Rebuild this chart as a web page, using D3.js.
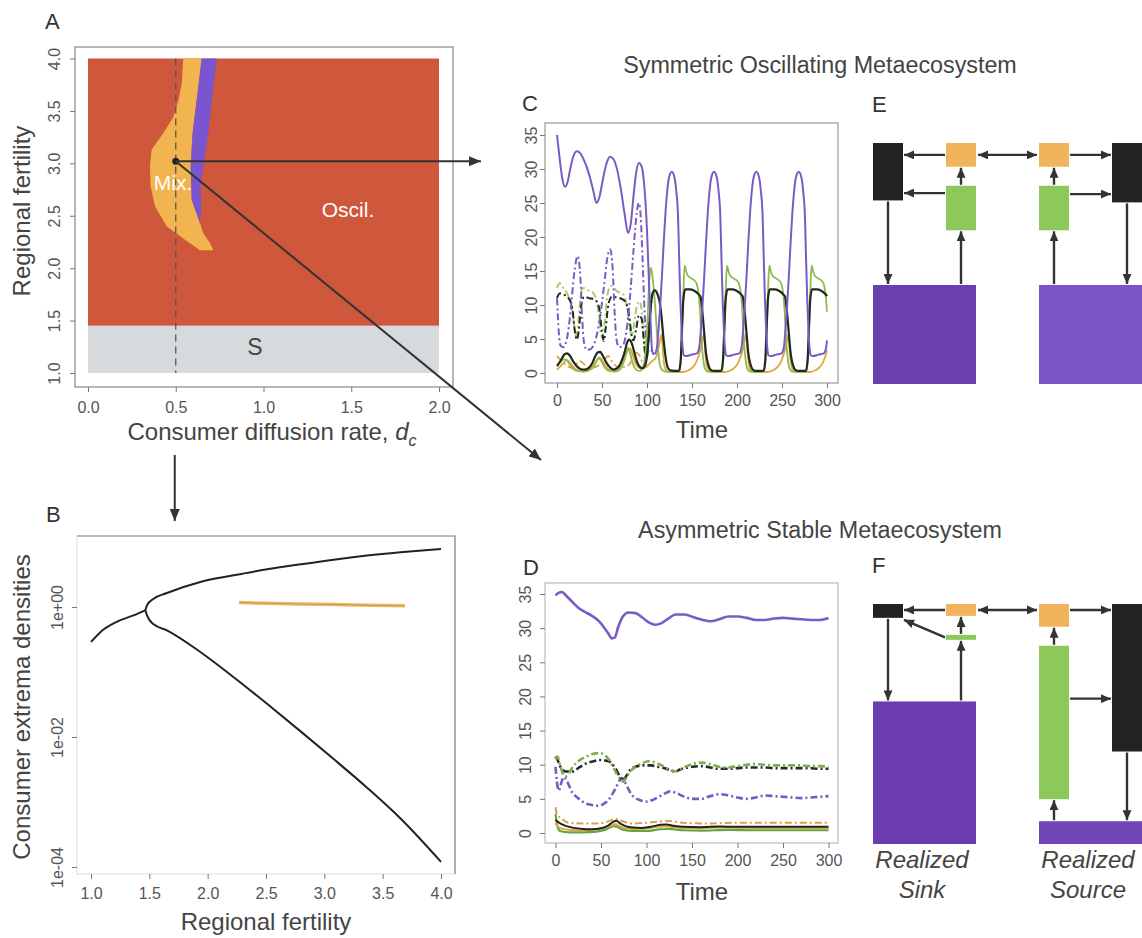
<!DOCTYPE html>
<html>
<head>
<meta charset="utf-8">
<script src="https://cdn.jsdelivr.net/npm/d3@7"></script>
<style>
  body { margin: 0; background: #fff; }
  text { font-family: 'Liberation Sans', Arial, sans-serif; }
</style>
</head>
<body>
<div id="fig"></div>
<script>
// ---------- data: panel A (regime map) ----------
const diffTicks = [0, 0.5, 1, 1.5, 2];
const fertTicksA = [1, 1.5, 2, 2.5, 3, 3.5, 4];
const stableLimit = 1.45;            // below: stable (S), above: oscillating
const mixRegion = [
  [0.543, 4.0], [0.534, 3.76], [0.515, 3.60], [0.486, 3.44], [0.429, 3.29], [0.363, 3.13],
  [0.353, 2.97], [0.357, 2.78], [0.382, 2.59], [0.448, 2.40], [0.553, 2.27], [0.638, 2.17],
  [0.714, 2.17], [0.695, 2.24], [0.657, 2.33], [0.638, 2.43], [0.619, 2.52], [0.591, 2.65],
  [0.585, 2.97], [0.596, 3.29], [0.619, 3.60], [0.648, 4.0]
];
const purpleRegion = [
  [0.648, 4.0], [0.619, 3.60], [0.596, 3.29], [0.585, 2.97], [0.591, 2.65], [0.619, 2.52],
  [0.638, 2.43], [0.645, 2.55], [0.642, 2.78], [0.657, 2.97], [0.686, 3.29], [0.705, 3.60], [0.733, 4.0]
];
const chosenPoint = [0.5, 3.02];

// ---------- data: panel B (bifurcation) ----------
const fertTicksB = [1, 1.5, 2, 2.5, 3, 3.5, 4];
const densTicksB = [1, 1e-2, 1e-4];
const densLabelsB = ["1e+00", "1e-02", "1e-04"];
const bifStableFert = [1.0, 1.08, 1.22, 1.37, 1.466];
const bifStable = [0.29, 0.41, 0.59, 0.75, 0.89];
const bifBranchFert = [1.466, 1.48, 1.537, 1.651, 1.937, 2.223, 2.509, 2.794, 3.08, 3.366, 3.651, 4.0];
const bifMax = [0.89, 1.06, 1.34, 1.64, 2.43, 3.07, 3.80, 4.53, 5.35, 6.17, 6.93, 7.80];
const bifMin = [0.89, 0.745, 0.541, 0.438, 0.203, 0.0832, 0.0324, 0.0123, 0.00457, 0.00166, 0.000562, 0.00012];
const mixFert = [2.27, 2.5, 2.8, 3.1, 3.4, 3.69];
const mixDens = [1.17, 1.14, 1.11, 1.09, 1.06, 1.04];

// ---------- data: panels C, D (time series, [time, density]) ----------
const timeTicks = [0, 50, 100, 150, 200, 250, 300];
const densTicks = [0, 5, 10, 15, 20, 25, 30, 35];

const cPurple1 = [[0,35],[3,31.5],[6,28.5],[9,27.4],[12,28.2],[15,30.2],[18,31.8],[22,32.6],[26,32.3],[30,31.3],[35,29.5],[40,27],[44,25],[47,25.8],[51,28.5],[55,30.8],[59,31.8],[63,31.4],[67,29.8],[71,27],[75,23.5],[79,20.6],[82,22],[85,26],[88,29.5],[91,30.9],[94,30.4],[97,27.5],[100,21],[102,14],[104,7.5],[105.5,3.5],[107,2.8],[109,2.9],
  [110.5,3.4],[111.5,4.2],[112.5,5.8],[114.5,9.5],[116.5,14],[118.5,19],[120.5,23.5],[122.5,26.8],[124.5,28.8],[127.5,29.6],[130.5,28.8],[132.5,26.8],[134.5,23],[135.5,18],[137,11],[138.5,6],[140,3.2],[141,2.6],[143.5,2.5],[149.5,2.7],[155.5,2.9],
  [157.5,3.4],[158.5,4.2],[159.5,5.8],[161.5,9.5],[163.5,14],[165.5,19],[167.5,23.5],[169.5,26.8],[171.5,28.8],[174.5,29.6],[177.5,28.8],[179.5,26.8],[181.5,23],[182.5,18],[184,11],[185.5,6],[187,3.2],[188,2.6],[190.5,2.5],[196.5,2.7],[202.5,2.9],
  [204.5,3.4],[205.5,4.2],[206.5,5.8],[208.5,9.5],[210.5,14],[212.5,19],[214.5,23.5],[216.5,26.8],[218.5,28.8],[221.5,29.6],[224.5,28.8],[226.5,26.8],[228.5,23],[229.5,18],[231,11],[232.5,6],[234,3.2],[235,2.6],[237.5,2.5],[243.5,2.7],[249.5,2.9],
  [251.5,3.4],[252.5,4.2],[253.5,5.8],[255.5,9.5],[257.5,14],[259.5,19],[261.5,23.5],[263.5,26.8],[265.5,28.8],[268.5,29.6],[271.5,28.8],[273.5,26.8],[275.5,23],[276.5,18],[278,11],[279.5,6],[281,3.2],[282,2.6],[284.5,2.5],[290.5,2.7],[296.5,2.9],[298.5,3.4],[299.5,4.2],[300,4.8]];
const cGreen1 = [[0,1.2],[3,1.5],[7,2.0],[10,2.0],[13,1.5],[17,0.7],[22,0.3],[30,0.2],[36,0.4],[41,1.0],[44,1.8],[46,2.2],[49,1.8],[53,0.8],[58,0.3],[65,0.2],[70,0.5],[74,1.5],[77,3],[79,3.7],[81,3],[84,1.5],[88,0.5],[92,0.3],[96,1],[99,4],[101,9],[102.5,13.5],[104,15.5],[105.5,14.8],[107,13],[109,10],[111,6],[113,2.5],[115,0.9],[118,0.3],[124,0.15],
  [136.5,0.3],[138.5,4],[140,10],[141,14],[142,15.8],[143.5,15],[145.5,14.3],[149.5,13.9],[153.5,13.5],[155.5,13],[157.5,11.5],[159,9],[160.5,5],[162.5,2],[164.5,0.6],[167.5,0.2],[174.5,0.15],
  [183.5,0.3],[185.5,4],[187,10],[188,14],[189,15.8],[190.5,15],[192.5,14.3],[196.5,13.9],[200.5,13.5],[202.5,13],[204.5,11.5],[206,9],[207.5,5],[209.5,2],[211.5,0.6],[214.5,0.2],[221.5,0.15],
  [230.5,0.3],[232.5,4],[234,10],[235,14],[236,15.8],[237.5,15],[239.5,14.3],[243.5,13.9],[247.5,13.5],[249.5,13],[251.5,11.5],[253,9],[254.5,5],[256.5,2],[258.5,0.6],[261.5,0.2],[268.5,0.15],
  [277.5,0.3],[279.5,4],[281,10],[282,14],[283,15.8],[284.5,15],[286.5,14.3],[290.5,13.9],[294.5,13.5],[296.5,13],[298.5,11.5],[300,9]];
const cBlack1 = [[0,1.0],[4,1.8],[8,2.7],[11,2.9],[14,2.6],[18,1.7],[22,1.0],[26,0.6],[30,0.5],[35,0.7],[39,1.4],[42,2.3],[45,3.0],[48,3.1],[51,2.5],[55,1.5],[59,0.8],[63,0.5],[67,0.7],[71,1.5],[75,3],[78,4.5],[80,4.9],[83,4.4],[86,3],[89,1.6],[92,0.9],[95,0.7],[98,1.2],[100,2.5],[102,5.5],[104,9.5],[106,11.6],[108.5,12.2],[111,11.8],[114,10.5],[116,8.5],[118,5.5],[120,3],[122,1.3],[124,0.6],[127,0.35],
  [135.5,0.3],[137.5,2],[139,7],[140.5,11],[142.5,12.3],[147.5,12.3],[152.5,12.1],[156.5,11.7],[158.5,11.4],[159.5,11.2],[161.5,9],[163.5,6],[165.5,3],[167.5,1.5],[169.5,0.7],[171.5,0.4],[174.5,0.3],
  [182.5,0.3],[184.5,2],[186,7],[187.5,11],[189.5,12.3],[194.5,12.3],[199.5,12.1],[203.5,11.7],[205.5,11.4],[206.5,11.2],[208.5,9],[210.5,6],[212.5,3],[214.5,1.5],[216.5,0.7],[218.5,0.4],[221.5,0.3],
  [229.5,0.3],[231.5,2],[233,7],[234.5,11],[236.5,12.3],[241.5,12.3],[246.5,12.1],[250.5,11.7],[252.5,11.4],[253.5,11.2],[255.5,9],[257.5,6],[259.5,3],[261.5,1.5],[263.5,0.7],[265.5,0.4],[268.5,0.3],
  [276.5,0.3],[278.5,2],[280,7],[281.5,11],[283.5,12.3],[288.5,12.3],[293.5,12.1],[297.5,11.7],[299.5,11.4],[300,11.3]];
const cOrange1 = [[0,0.5],[4,1.0],[8,1.6],[11,1.9],[14,1.6],[18,0.9],[23,0.4],[30,0.3],[36,0.5],[40,1.0],[44,1.8],[47,2.3],[50,1.9],[54,1.0],[58,0.5],[64,0.4],[70,0.8],[74,1.8],[78,3.2],[81,3.6],[84,2.8],[87,1.5],[91,0.8],[95,0.6],[99,0.9],[103,1.4],[106,1.8],
  [109.5,2.2],[112.5,3.5],[114.5,4.8],[116,5.6],[117,4.5],[118,2.5],[119.5,1],[121.5,0.4],[124.5,0.2],[132.5,0.15],
  [139.5,0.15],[144.5,0.3],[149.5,0.7],[153.5,1.3],[156.5,2.2],[159.5,3.5],[161.5,4.8],[163,5.6],[164,4.5],[165,2.5],[166.5,1],[168.5,0.4],[171.5,0.2],[179.5,0.15],
  [186.5,0.15],[191.5,0.3],[196.5,0.7],[200.5,1.3],[203.5,2.2],[206.5,3.5],[208.5,4.8],[210,5.6],[211,4.5],[212,2.5],[213.5,1],[215.5,0.4],[218.5,0.2],[226.5,0.15],
  [233.5,0.15],[238.5,0.3],[243.5,0.7],[247.5,1.3],[250.5,2.2],[253.5,3.5],[255.5,4.8],[257,5.6],[258,4.5],[259,2.5],[260.5,1],[262.5,0.4],[265.5,0.2],[273.5,0.15],
  [280.5,0.15],[285.5,0.3],[290.5,0.7],[294.5,1.3],[297.5,2.2],[300,3.3]];
// patch 2 of panel C; after t ~ 105 the two patches are synchronised and overlap patch 1
const cPurple2 = [[0,11],[2,6],[4,4],[7,3.8],[11,5],[15,9],[19,14.5],[23,17.2],[26,14],[28,8],[30,4.5],[33,3.4],[38,3.6],[42,4.5],[47,7.5],[52,12.5],[56,17],[59,18.2],[62,15],[64,9],[66,5],[69,3.8],[73,4],[77,6],[81,11],[85,18],[89,24],[91,25],[93,23],[95,17],[97,10],[99,5],[101,3.4],[103,3.0],[105.5,3.3],[107,2.8]];
const cGreen2 = [[0,12.5],[3,13.2],[7,12.5],[12,11.5],[16,10],[19,7],[21,5.5],[23,6.5],[26,11],[29,12.5],[34,12.2],[40,11.8],[45,10],[48,6.5],[50,5.2],[53,7.5],[56,11.5],[60,12.8],[67,12],[74,11.5],[78,9.5],[81,6.5],[83,5.5],[86,7.5],[89,10],[92,10.5],[95,8],[97,4],[99,2.5],[101,6],[102.5,13.5],[104,15.5]];
const cBlack2 = [[0,11],[3,11.7],[8,11.5],[13,11],[17,9.5],[20,6],[22,4.9],[24,6],[27,10],[30,11.2],[36,11],[42,10.8],[47,9.5],[50,6],[52,4.7],[54,6.5],[57,10],[61,11.2],[70,11],[76,10.5],[80,8.5],[83,5.5],[85,4.8],[88,6.5],[91,8.5],[94,8],[97,4],[99,2],[101,3.5],[102,5.5],[104,9.5],[106,11.6]];
const cOrange2 = [[0,2.5],[5,1.8],[10,1.2],[15,0.8],[20,1.0],[25,1.8],[30,1.3],[40,0.8],[50,1.5],[57,2.5],[62,1.5],[70,0.8],[80,1.2],[88,3],[92,2.5],[96,1.2],[99,0.9],[103,1.4]];

const dPurple1 = [[0,34.8],[4,35.2],[7,35.3],[12,34.7],[18,33.9],[25,33],[32,32.4],[40,31.8],[48,31],[54,30],[58,29.2],[62,28.5],[65,28.6],[69,30.2],[74,31.7],[80,32.3],[88,32.2],[95,31.6],[103,30.8],[110,30.5],[116,30.7],[124,31.4],[132,32],[142,32],[152,31.6],[162,31.2],[170,31],[180,31.3],[190,31.7],[200,31.7],[210,31.5],[220,31.2],[230,31.2],[240,31.4],[250,31.5],[260,31.4],[270,31.3],[280,31.2],[290,31.2],[300,31.5]];
const dGreen1 = [[0,2.8],[2,1.0],[5,0.3],[15,0.1],[30,0.1],[45,0.2],[55,0.5],[64,1.0],[68,0.9],[74,0.5],[85,0.3],[100,0.3],[115,0.55],[125,0.6],[140,0.4],[160,0.35],[190,0.45],[220,0.4],[260,0.4],[300,0.4]];
const dBlack1 = [[0,1.9],[5,1.4],[12,1.0],[20,0.75],[30,0.6],[40,0.55],[50,0.7],[58,1.1],[63,1.6],[67,1.8],[71,1.4],[77,1.0],[85,0.8],[95,0.75],[105,0.9],[115,1.2],[122,1.25],[130,1.05],[140,0.9],[160,0.85],[180,0.95],[200,0.9],[230,0.9],[260,0.9],[300,0.9]];
const dOrange1 = [[0,1.4],[4,0.8],[12,0.5],[25,0.4],[40,0.45],[52,0.7],[60,1.0],[66,1.3],[70,1.0],[76,0.7],[86,0.6],[100,0.65],[112,0.9],[120,1.0],[130,0.85],[150,0.7],[180,0.8],[220,0.75],[260,0.75],[300,0.75]];
const dPurple2 = [[0,9.7],[2,7],[3.5,6.2],[6,7.2],[9,8.2],[13,7.5],[18,6],[24,5.2],[32,4.4],[40,4.1],[46,4.0],[52,4.2],[58,4.8],[63,5.8],[67,6.8],[71,7.8],[74,8],[77,7.3],[81,6.2],[86,5.3],[93,4.8],[100,4.6],[106,4.8],[112,5.2],[119,5.7],[126,6.1],[132,5.9],[140,5.4],[150,5.0],[160,5.0],[170,5.4],[180,5.7],[190,5.5],[200,5.2],[210,5.0],[220,5.2],[230,5.5],[240,5.4],[250,5.3],[260,5.2],[270,5.1],[280,5.2],[290,5.3],[300,5.4]];
const dGreen2 = [[0,10.8],[2,11.2],[5,10],[8,8.7],[11,8.3],[15,8.8],[19,9.7],[26,10.6],[34,11.2],[42,11.6],[49,11.7],[55,11.3],[60,10.5],[64,9.5],[68,8.5],[72,7.8],[75,7.5],[78,8.2],[82,9],[88,9.7],[95,10.2],[102,10.5],[110,10.3],[118,9.8],[126,9.2],[132,9.0],[140,9.5],[150,10.1],[160,10.3],[170,10.1],[180,9.7],[190,9.6],[200,9.8],[210,10.0],[220,10.1],[230,10.0],[240,9.9],[250,9.9],[260,9.9],[270,9.9],[280,9.8],[290,9.8],[300,9.7]];
const dBlack2 = [[0,11.2],[2,10.8],[5,9.8],[8,9.2],[12,9.0],[19,9.0],[26,9.6],[34,10.2],[42,10.5],[48,10.7],[55,10.6],[60,10.4],[64,9.8],[67,9.2],[71,8.2],[74.5,7.7],[78,8.4],[82,9.2],[88,9.7],[95,9.9],[105,9.9],[112,9.7],[120,9.5],[126,9.2],[131,9.0],[137,9.3],[142,9.5],[150,9.7],[160,9.8],[170,9.6],[180,9.4],[190,9.4],[200,9.5],[210,9.6],[220,9.6],[230,9.6],[240,9.5],[250,9.5],[260,9.5],[270,9.5],[280,9.5],[290,9.4],[300,9.4]];
const dOrange2 = [[0,3.8],[2,2.6],[6,2.2],[14,1.5],[30,1.4],[45,1.4],[58,1.7],[66,2.1],[72,1.8],[85,1.4],[100,1.5],[115,1.7],[125,1.75],[140,1.5],[170,1.4],[200,1.5],[240,1.5],[300,1.5]];

// ---------- data: panels E, F (relative box sizes: black, orange, green, purple) ----------
const symLeft = [0.58, 0.24, 0.45, 1.0];
const symRight = [0.60, 0.24, 0.45, 1.0];
const asymLeft = [0.14, 0.12, 0.05, 1.44];
const asymRight = [1.49, 0.23, 1.55, 0.23];

// ---------- drawing ----------
const svg = d3.select("#fig").append("svg").attr("width", 1142).attr("height", 938);
const defs = svg.append("defs");

function makeHead(id, len, wid) {
  defs.append("marker").attr("id", id)
    .attr("viewBox", `0 0 ${len} ${wid}`).attr("refX", len).attr("refY", wid / 2)
    .attr("markerWidth", len).attr("markerHeight", wid)
    .attr("markerUnits", "userSpaceOnUse").attr("orient", "auto-start-reverse")
    .append("path").attr("d", `M0,0L${len},${wid / 2}L0,${wid}z`).attr("fill", "#333");
}
makeHead("bigHead", 12, 10);
makeHead("smallHead", 10, 9);

function arrow(g, x1, y1, x2, y2, head, both) {
  const l = g.append("line").attr("x1", x1).attr("y1", y1).attr("x2", x2).attr("y2", y2)
    .attr("stroke", "#333").attr("stroke-width", head === "bigHead" ? 2 : 2.4)
    .attr("marker-end", `url(#${head})`);
  if (both) l.attr("marker-start", `url(#${head})`);
}

function bottomAxis(g, scale, ticks, fmt, y, pad) {
  const ax = g.append("g").attr("transform", `translate(0,${y})`)
    .call(d3.axisBottom(scale).tickValues(ticks).tickFormat(fmt).tickSize(5).tickPadding(pad));
  ax.select(".domain").remove();
  ax.selectAll("line").attr("stroke", "#777");
  ax.selectAll("text").attr("fill", "#555").style("font-size", "16px")
    .style("font-family", "'Liberation Sans', Arial, sans-serif");
}
function leftAxis(g, scale, ticks, fmt, x, off) {
  const ax = g.append("g").attr("transform", `translate(${x},0)`)
    .call(d3.axisLeft(scale).tickValues(ticks).tickFormat(fmt).tickSize(5));
  ax.select(".domain").remove();
  ax.selectAll("line").attr("stroke", "#777");
  ax.selectAll("text").attr("transform", "rotate(-90)").attr("x", 0).attr("y", -off)
    .attr("dy", 0).attr("text-anchor", "middle").attr("fill", "#555").style("font-size", "16px")
    .style("font-family", "'Liberation Sans', Arial, sans-serif");
}
function frame(g, x0, y0, x1, y1, col) {
  g.append("rect").attr("x", x0).attr("y", y0).attr("width", x1 - x0).attr("height", y1 - y0)
    .attr("fill", "none").attr("stroke", col).attr("stroke-width", 1.2);
}
function label(g, txt, x, y, size, opts = {}) {
  const t = g.append("text").attr("x", x).attr("y", y).attr("text-anchor", opts.anchor || "middle")
    .attr("fill", opts.fill || "#444").style("font-size", size + "px").text(txt);
  if (opts.rotate) t.attr("transform", `rotate(-90,${x},${y})`);
  if (opts.italic) t.style("font-style", "italic");
  return t;
}

// ----- panel A -----
const gA = svg.append("g");
const xA = d3.scaleLinear().domain([0, 2]).range([88, 439]);
const yA = d3.scaleLinear().domain([1, 4]).range([373, 58.5]);
gA.append("rect").attr("x", xA(0)).attr("y", yA(4)).attr("width", xA(2) - xA(0))
  .attr("height", yA(stableLimit) - yA(4)).attr("fill", "#cf573c");
gA.append("rect").attr("x", xA(0)).attr("y", yA(stableLimit)).attr("width", xA(2) - xA(0))
  .attr("height", yA(1) - yA(stableLimit)).attr("fill", "#d6dadd");
const polyA = d3.line().x(d => xA(d[0])).y(d => yA(d[1]));
gA.append("path").attr("d", polyA(mixRegion) + "Z").attr("fill", "#f2b44e");
gA.append("path").attr("d", polyA(purpleRegion) + "Z").attr("fill", "#7b55cf");
gA.append("line").attr("x1", xA(0.5)).attr("x2", xA(0.5)).attr("y1", yA(4)).attr("y2", yA(1))
  .attr("stroke", "#555").attr("stroke-width", 1.3).attr("stroke-dasharray", "7,5");
label(gA, "Mix.", 173, 190, 21, { fill: "#fff" });
label(gA, "Oscil.", 348, 217, 21, { fill: "#fff" });
label(gA, "S", 255, 355, 23, { fill: "#444" });
frame(gA, 75, 47, 453, 387, "#888");
bottomAxis(gA, xA, diffTicks, d3.format(".1f"), 387, 10);
leftAxis(gA, yA, fertTicksA, d3.format(".1f"), 75, 15);
const xl = gA.append("text").attr("x", 272).attr("y", 440).attr("text-anchor", "middle")
  .attr("fill", "#444").style("font-size", "24px");
xl.append("tspan").text("Consumer diffusion rate, ");
xl.append("tspan").style("font-style", "italic").text("d");
xl.append("tspan").style("font-style", "italic").style("font-size", "16px").attr("dy", 6).text("c");
label(gA, "Regional fertility", 30, 211, 24, { rotate: true });
label(gA, "A", 45, 29, 22, { anchor: "start", fill: "#333" });

// arrows from the chosen point
const px = xA(chosenPoint[0]), py = yA(chosenPoint[1]);
arrow(svg, px, py, 481, py, "bigHead");
arrow(svg, px, py, 541, 460, "bigHead");
arrow(svg, px - 1, 455, px - 1, 521, "bigHead");
gA.append("circle").attr("cx", px).attr("cy", py).attr("r", 3.5).attr("fill", "#222");

// ----- panel B -----
const gB = svg.append("g");
const xB = d3.scaleLinear().domain([1, 4]).range([91, 441]);
const yB = d3.scaleLog().domain([Math.pow(10, 1.092), Math.pow(10, -4.108)]).range([536, 874]);
gB.append("rect").attr("x", 77).attr("y", 536).attr("width", 378).attr("height", 338)
  .attr("fill", "none").attr("stroke", "#ddd").attr("stroke-width", 1);
gB.append("path").attr("d", "M77,536H455V874").attr("fill", "none").attr("stroke", "#888").attr("stroke-width", 1.2);
const lineB = d3.line().x(d => xB(d[0])).y(d => yB(d[1])).curve(d3.curveMonotoneX);
const bifCurves = [
  d3.zip(bifStableFert, bifStable),
  d3.zip(bifBranchFert, bifMax),
  d3.zip(bifBranchFert, bifMin)
];
gB.selectAll(".bif").data(bifCurves).join("path").attr("class", "bif")
  .attr("d", lineB).attr("fill", "none").attr("stroke", "#222").attr("stroke-width", 2);
const mixB = d3.zip(mixFert, mixDens);
gB.append("path").attr("d", lineB(mixB)).attr("fill", "none").attr("stroke", "#ebbd66").attr("stroke-width", 3.5);
gB.append("path").attr("d", lineB(mixB)).attr("fill", "none").attr("stroke", "#b9893f").attr("stroke-width", 1).attr("opacity", 0.7);
bottomAxis(gB, xB, fertTicksB, d3.format(".1f"), 874, 8.6);
leftAxis(gB, yB, densTicksB, (d, i) => densLabelsB[i], 77, 14);
label(gB, "Regional fertility", 266, 930, 24);
label(gB, "Consumer extrema densities", 30, 707, 24, { rotate: true });
label(gB, "B", 46, 522, 22, { anchor: "start", fill: "#333" });

// ----- panels C and D -----
const colPurple = "#7a5bc6", colGreen = "#8cbd4c", colBlack = "#1e2a1e", colOrange = "#e0a53e";
const dashDot = "7,3,2,3";

function timePanel(x0, y0, x1, y1, xr, yr, series, yOff, letter, letterXY, timeY, frameCol) {
  const g = svg.append("g");
  const x = d3.scaleLinear().domain([0, 300]).range(xr);
  const y = d3.scaleLinear().domain([0, 35]).range(yr);
  const line = d3.line().x(d => x(d[0])).y(d => y(d[1])).curve(d3.curveMonotoneX);
  g.selectAll(".ts").data(series).join("path").attr("class", "ts")
    .attr("d", d => line(d.values)).attr("fill", "none")
    .attr("stroke", d => d.color).attr("stroke-width", d => d.width)
    .attr("stroke-dasharray", d => d.dash ? dashDot : null);
  frame(g, x0, y0, x1, y1, frameCol);
  bottomAxis(g, x, timeTicks, d3.format("d"), y1, 6.3);
  leftAxis(g, y, densTicks, d3.format("d"), x0, yOff);
  label(g, "Time", 702, timeY, 24);
  label(g, letter, letterXY[0], letterXY[1], 22, { anchor: "start", fill: "#333" });
}

timePanel(545, 123, 838, 383, [557, 827], [373, 135], [
  { values: cOrange2, color: colOrange, width: 1.8, dash: true },
  { values: cOrange1, color: colOrange, width: 1.8 },
  { values: cGreen2, color: "#a5cd70", width: 2, dash: true },
  { values: cBlack2, color: colBlack, width: 2, dash: true },
  { values: cPurple2, color: colPurple, width: 2, dash: true },
  { values: cGreen1, color: colGreen, width: 1.8 },
  { values: cBlack1, color: colBlack, width: 2.2 },
  { values: cPurple1, color: colPurple, width: 2 }
], 8, "C", [522, 111], 438, "#999");

timePanel(545, 583, 838, 843, [555.5, 828.5], [833, 594], [
  { values: dOrange2, color: "#d7a24a", width: 2, dash: true },
  { values: dGreen1, color: "#5ea843", width: 2.2 },
  { values: dOrange1, color: colOrange, width: 2 },
  { values: dBlack1, color: "#222", width: 2 },
  { values: dPurple2, color: colPurple, width: 2.6, dash: true },
  { values: dBlack2, color: "#2a2a2a", width: 2.6, dash: true },
  { values: dGreen2, color: "#7fac4e", width: 2.6, dash: true },
  { values: dPurple1, color: colPurple, width: 2.6 }
], 14, "D", [523, 575], 900, "#bbb");

label(svg, "Symmetric Oscillating Metaecosystem", 820, 73, 23.3);
label(svg, "Asymmetric Stable Metaecosystem", 820, 538, 23.3);

// ----- panels E and F (food-web diagrams) -----
const hBox = d3.scaleLinear().domain([0, 1]).range([0, 99]);
const webCols = d3.scaleOrdinal().domain(["blackL", "midL", "midR", "blackR"]).range([0, 73, 166, 239]);
const boxW = 30, boxGap = 19;
const boxColors = ["#232323", "#f1b35b", "#8dc85b"];

function foodWeb(left, right, x0, top, bottom, purples) {
  const g = svg.append("g");
  const patches = [
    { s: left, bx: x0 + webCols("blackL"), mx: x0 + webCols("midL"), px: x0 + webCols("blackL"), pc: purples[0], side: -1 },
    { s: right, bx: x0 + webCols("blackR"), mx: x0 + webCols("midR"), px: x0 + webCols("midR"), pc: purples[1], side: 1 }
  ];
  const yo = top + hBox(left[1]) / 2;
  patches.forEach(p => {
    const bH = hBox(p.s[0]), oH = hBox(p.s[1]), gH = hBox(p.s[2]), pH = hBox(p.s[3]);
    const gTop = top + oH + boxGap, gBot = gTop + gH, pTop = bottom - pH, bBot = top + bH;
    g.append("rect").attr("x", p.bx).attr("y", top).attr("width", boxW).attr("height", bH).attr("fill", boxColors[0]);
    g.append("rect").attr("x", p.mx).attr("y", top).attr("width", boxW).attr("height", oH).attr("fill", boxColors[1]);
    g.append("rect").attr("x", p.mx).attr("y", gTop).attr("width", boxW).attr("height", gH).attr("fill", boxColors[2]);
    g.append("rect").attr("x", p.px).attr("y", pTop).attr("width", 103).attr("height", pH).attr("fill", p.pc);
    const mc = p.mx + boxW / 2, bc = p.bx + boxW / 2;
    const mEdge = p.side < 0 ? p.mx - 1 : p.mx + boxW + 1;
    const bEdge = p.side < 0 ? p.bx + boxW + 1 : p.bx - 1;
    arrow(g, mEdge, yo, bEdge, yo, "smallHead");
    const ovTop = Math.max(gTop, top), ovBot = Math.min(gBot, bBot);
    if (ovBot > ovTop) arrow(g, mEdge, (ovTop + ovBot) / 2, bEdge, (ovTop + ovBot) / 2, "smallHead");
    else arrow(g, mEdge, gTop + gH / 2, bEdge, bBot + 2, "smallHead");
    arrow(g, mc, gTop - 1, mc, top + oH + 1, "smallHead");
    arrow(g, mc, pTop - 1, mc, gBot + 1, "smallHead");
    arrow(g, bc, bBot + 1, bc, pTop - 1, "smallHead");
  });
  arrow(g, x0 + webCols("midL") + boxW + 2, yo, x0 + webCols("midR") - 2, yo, "smallHead", true);
}
foodWeb(symLeft, symRight, 873, 143, 384, ["#6a3fae", "#7a54c3"]);
foodWeb(asymLeft, asymRight, 873, 604, 844, ["#6b3bb0", "#6f45b8"]);
label(svg, "E", 872, 112, 22, { anchor: "start", fill: "#333" });
label(svg, "F", 872, 573, 22, { anchor: "start", fill: "#333" });
label(svg, "Realized", 922, 868, 24, { italic: true });
label(svg, "Sink", 922, 898, 24, { italic: true });
label(svg, "Realized", 1088, 868, 24, { italic: true });
label(svg, "Source", 1088, 898, 24, { italic: true });
</script>
</body>
</html>
